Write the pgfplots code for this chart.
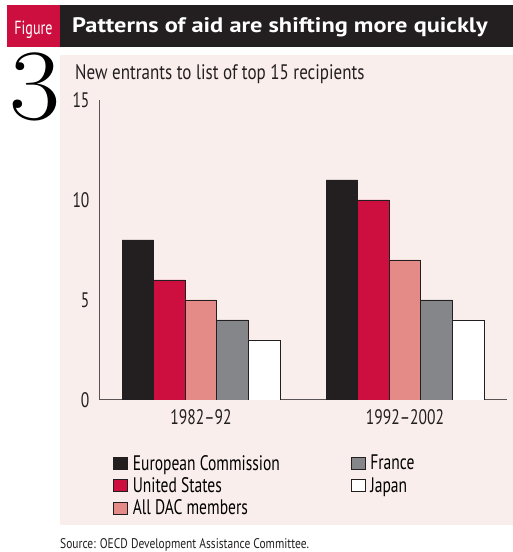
\documentclass[border=0pt]{standalone}
\usepackage{fontspec}
\setmainfont{PT Sans}[FakeStretch=0.74]
\newfontfamily\subfont{PT Sans}[FakeStretch=0.81]
\newfontfamily\srcfont{PT Sans}[FakeStretch=0.82]
\newfontfamily\headfont{PT Sans}[FakeStretch=1.16]
\newfontfamily\threefont{Latin Modern Roman}[FakeStretch=1.1]
\usepackage{pgfplots}
\pgfplotsset{compat=1.18}
\definecolor{cDark}{HTML}{231F20}
\definecolor{cRed}{HTML}{CC0F3F}
\definecolor{cPink}{HTML}{E48B88}
\definecolor{cGrey}{HTML}{85868A}
\definecolor{cPanel}{HTML}{F9EEEC}
\definecolor{cAxis}{HTML}{5A5355}
\begin{document}
\begin{tikzpicture}
\useasboundingbox (0pt,0pt) rectangle (513pt,552pt);
\fill[white] (0pt,0pt) rectangle (513pt,552pt);
\fill[cPanel] (60pt,27pt) rectangle (513pt,497pt);
\fill[cDark] (60pt,505pt) rectangle (513pt,547pt);
\fill[cRed] (7pt,505pt) rectangle (60pt,547pt);
\node[anchor=base, white, inner sep=0pt, font=\fontsize{19}{22}\selectfont] at (33.5pt,517pt) {Figure};
\node[anchor=base west, white, inner sep=0pt, font=\headfont\bfseries\fontsize{21}{24}\selectfont] at (72pt,519pt) {Patterns of aid are shifting more quickly};
\node[anchor=base west, inner sep=0pt, font=\threefont\fontsize{101}{101}\selectfont] at (9pt,432pt) {3};
\node[anchor=base west, cDark, inner sep=0pt, font=\subfont\fontsize{21}{24}\selectfont] at (75pt,472pt) {New entrants to list of top 15 recipients};
\node[anchor=base west, cDark, inner sep=0pt, font=\srcfont\fontsize{14}{16}\selectfont] at (60pt,4pt) {Source: OECD Development Assistance Committee.};
\begin{axis}[
  at={(99pt,152pt)}, anchor=south west,
  scale only axis, width=408pt, height=300pt,
  xmin=-0.5, xmax=1.5, ymin=0, ymax=15,
  axis x line*=bottom, axis y line*=left,
  axis line style={cAxis, line width=1pt, -},
  ybar, bar width=31.6pt,
  xtick={0,1}, xticklabels={1982--92,1992--2002},
  ytick={0,5,10,15},
  major tick length=0pt,
  tick label style={font=\fontsize{21}{24}\selectfont, cDark},
  /pgf/number format/assume math mode=true,
  yticklabel style={xshift=-6pt},
  xticklabel style={yshift=-6pt},
  every axis plot/.append style={draw=cDark, line width=0.8pt},
  legend columns=2,
  legend cell align=left,
  legend image code/.code={\draw[#1, line width=0.8pt] (0pt,-6pt) rectangle (14pt,6pt); \path[draw=none, fill=none] (0pt,0pt) -- (17pt,0pt);},
  legend style={at={(0.0275,-0.173)}, anchor=north west, draw=none, fill=none,
    font=\fontsize{21}{24}\selectfont, row sep=4pt,
    nodes={inner xsep=2pt, inner ysep=1pt},
    /tikz/every even column/.append style={column sep=69pt}},
]
\addplot[fill=cDark, bar shift=-63.2pt] coordinates {(0,8) (1,11)};
\addlegendentry{European Commission}
\addplot[fill=cGrey, bar shift=31.6pt] coordinates {(0,4) (1,5)};
\addlegendentry{France}
\addplot[fill=cRed, bar shift=-31.6pt] coordinates {(0,6) (1,10)};
\addlegendentry{United States}
\addplot[fill=white, bar shift=63.2pt] coordinates {(0,3) (1,4)};
\addlegendentry{Japan}
\addplot[fill=cPink, bar shift=0pt] coordinates {(0,5) (1,7)};
\addlegendentry{All DAC members}
\end{axis}
\end{tikzpicture}
\end{document}
